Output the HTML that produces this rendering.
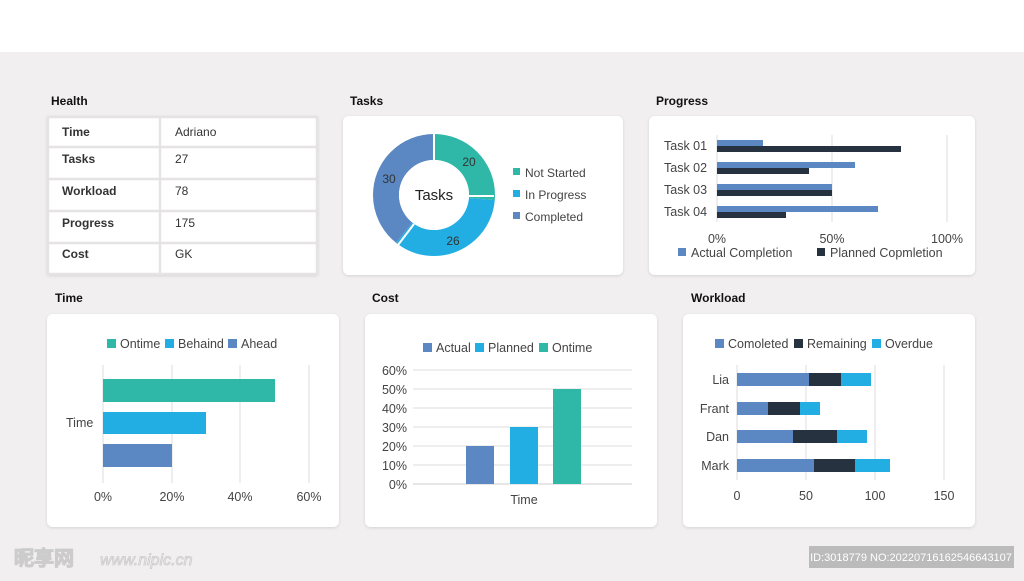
<!DOCTYPE html>
<html><head><meta charset="utf-8"><style>
body{margin:0;width:1024px;height:576px;overflow:hidden;background:#f2eff0;font-family:"Liberation Sans",Arial,sans-serif}
svg text{font-family:"Liberation Sans",Arial,sans-serif}
</style></head><body>
<svg width="1024" height="576" viewBox="0 0 1024 576" xmlns="http://www.w3.org/2000/svg">
<defs><filter id="sh" x="-5%" y="-5%" width="110%" height="115%"><feDropShadow dx="0" dy="1" stdDeviation="1.5" flood-color="#000" flood-opacity="0.12"/></filter></defs>
<rect x="0" y="0" width="1024" height="52" fill="#fff"/>
<g font-size="12" font-weight="bold" fill="#111">
<text x="51" y="105">Health</text><text x="350" y="105">Tasks</text><text x="656" y="105">Progress</text>
<text x="55" y="302">Time</text><text x="372" y="302">Cost</text><text x="691" y="302">Workload</text>
</g>
<g fill="#fff" filter="url(#sh)">
<rect x="47" y="116" width="271" height="159" rx="3"/>
<rect x="343" y="116" width="280" height="159" rx="6"/>
<rect x="649" y="116" width="326" height="159" rx="6"/>
<rect x="47" y="314" width="292" height="213" rx="6"/>
<rect x="365" y="314" width="292" height="213" rx="6"/>
<rect x="683" y="314" width="292" height="213" rx="6"/>
</g>
<!-- health table -->
<g stroke="#e6e3e4" stroke-width="2.5" fill="none">
<rect x="48" y="117" width="269" height="157"/>
<line x1="160" y1="117" x2="160" y2="274"/>
<line x1="48" y1="147" x2="317" y2="147"/><line x1="48" y1="179" x2="317" y2="179"/>
<line x1="48" y1="211" x2="317" y2="211"/><line x1="48" y1="243" x2="317" y2="243"/>
</g>
<g font-size="12" fill="#333"><g font-weight="bold">
<text x="62" y="136">Time</text><text x="62" y="163">Tasks</text><text x="62" y="195">Workload</text><text x="62" y="227">Progress</text><text x="62" y="258">Cost</text></g>
<text x="175" y="136">Adriano</text><text x="175" y="163">27</text><text x="175" y="195">78</text><text x="175" y="227">175</text><text x="175" y="258">GK</text></g>
<!-- donut -->
<g transform="translate(434,195) rotate(-90)" fill="none" stroke-width="26">
<circle r="48" stroke="#2fb8a8" stroke-dasharray="79.4 400"/>
<circle r="48" stroke="#23aee3" stroke-dasharray="0 79.4 103.2 400"/>
<circle r="48" stroke="#5b87c2" stroke-dasharray="0 182.6 119 400"/>
</g>
<g stroke="#fff" stroke-width="2"><line x1="434" y1="134" x2="434" y2="161"/><line x1="494" y1="196" x2="468" y2="196"/><line x1="398" y1="245" x2="414" y2="224"/></g>
<circle cx="434" cy="195" r="35" fill="#fff"/>
<text x="434" y="200" font-size="15" text-anchor="middle" fill="#222">Tasks</text>
<g font-size="12" fill="#333" text-anchor="middle"><text x="469" y="166">20</text><text x="453" y="245">26</text><text x="389" y="183">30</text></g>
<g font-size="12" fill="#444"><rect x="513" y="168" width="7" height="7" fill="#2fb8a8"/><text x="525" y="177">Not Started</text>
<rect x="513" y="190" width="7" height="7" fill="#23aee3"/><text x="525" y="199">In Progress</text>
<rect x="513" y="212" width="7" height="7" fill="#5b87c2"/><text x="525" y="221">Completed</text></g>
<!-- progress -->
<g stroke="#ddd"><line x1="717" y1="135" x2="717" y2="222"/><line x1="832" y1="135" x2="832" y2="222"/><line x1="947" y1="135" x2="947" y2="222"/></g>
<g fill="#5b87c2"><rect x="717" y="140" width="46" height="6"/><rect x="717" y="162" width="138" height="6"/><rect x="717" y="184" width="115" height="6"/><rect x="717" y="206" width="161" height="6"/></g>
<g fill="#263240"><rect x="717" y="146" width="184" height="6"/><rect x="717" y="168" width="92" height="6"/><rect x="717" y="190" width="115" height="6"/><rect x="717" y="212" width="69" height="6"/></g>
<g font-size="12.5" fill="#444"><text x="664" y="150">Task 01</text><text x="664" y="172">Task 02</text><text x="664" y="194">Task 03</text><text x="664" y="216">Task 04</text>
<text x="717" y="243" text-anchor="middle">0%</text><text x="832" y="243" text-anchor="middle">50%</text><text x="947" y="243" text-anchor="middle">100%</text>
<rect x="678" y="248" width="8" height="8" fill="#5b87c2"/><text x="691" y="257">Actual Completion</text>
<rect x="817" y="248" width="8" height="8" fill="#263240"/><text x="830" y="257">Planned Copmletion</text></g>
<!-- time -->
<g stroke="#ddd"><line x1="103" y1="365" x2="103" y2="483"/><line x1="172" y1="365" x2="172" y2="483"/><line x1="240" y1="365" x2="240" y2="483"/><line x1="309" y1="365" x2="309" y2="483"/></g>
<rect x="103" y="379" width="172" height="23" fill="#2fb8a8"/><rect x="103" y="412" width="103" height="22" fill="#23aee3"/><rect x="103" y="444" width="69" height="23" fill="#5b87c2"/>
<g font-size="12.5" fill="#444"><text x="66" y="427">Time</text>
<text x="103" y="501" text-anchor="middle">0%</text><text x="172" y="501" text-anchor="middle">20%</text><text x="240" y="501" text-anchor="middle">40%</text><text x="309" y="501" text-anchor="middle">60%</text>
<rect x="107" y="339" width="9" height="9" fill="#2fb8a8"/><text x="120" y="348">Ontime</text>
<rect x="165" y="339" width="9" height="9" fill="#23aee3"/><text x="178" y="348">Behaind</text>
<rect x="228" y="339" width="9" height="9" fill="#5b87c2"/><text x="241" y="348">Ahead</text></g>
<!-- cost -->
<g stroke="#ddd"><line x1="413" y1="370" x2="632" y2="370"/><line x1="413" y1="389" x2="632" y2="389"/><line x1="413" y1="408" x2="632" y2="408"/><line x1="413" y1="427" x2="632" y2="427"/><line x1="413" y1="446" x2="632" y2="446"/><line x1="413" y1="465" x2="632" y2="465"/><line x1="413" y1="484" x2="632" y2="484" stroke="#ccc"/></g>
<rect x="466" y="446" width="28" height="38" fill="#5b87c2"/><rect x="510" y="427" width="28" height="57" fill="#23aee3"/><rect x="553" y="389" width="28" height="95" fill="#2fb8a8"/>
<g font-size="12.5" fill="#444" text-anchor="end"><text x="407" y="375">60%</text><text x="407" y="394">50%</text><text x="407" y="413">40%</text><text x="407" y="432">30%</text><text x="407" y="451">20%</text><text x="407" y="470">10%</text><text x="407" y="489">0%</text></g>
<g font-size="12.5" fill="#444"><text x="524" y="504" text-anchor="middle">Time</text>
<rect x="423" y="343" width="9" height="9" fill="#5b87c2"/><text x="436" y="352">Actual</text>
<rect x="475" y="343" width="9" height="9" fill="#23aee3"/><text x="488" y="352">Planned</text>
<rect x="539" y="343" width="9" height="9" fill="#2fb8a8"/><text x="552" y="352">Ontime</text></g>
<!-- workload -->
<g stroke="#ddd"><line x1="737" y1="365" x2="737" y2="480"/><line x1="806" y1="365" x2="806" y2="480"/><line x1="875" y1="365" x2="875" y2="480"/><line x1="944" y1="365" x2="944" y2="480"/></g>
<g fill="#5b87c2"><rect x="737" y="373" width="72" height="13"/><rect x="737" y="402" width="31" height="13"/><rect x="737" y="430" width="56" height="13"/><rect x="737" y="459" width="77" height="13"/></g>
<g fill="#263240"><rect x="809" y="373" width="32" height="13"/><rect x="768" y="402" width="32" height="13"/><rect x="793" y="430" width="44" height="13"/><rect x="814" y="459" width="41" height="13"/></g>
<g fill="#23aee3"><rect x="841" y="373" width="30" height="13"/><rect x="800" y="402" width="20" height="13"/><rect x="837" y="430" width="30" height="13"/><rect x="855" y="459" width="35" height="13"/></g>
<g font-size="12.5" fill="#444"><g text-anchor="end"><text x="729" y="384">Lia</text><text x="729" y="413">Frant</text><text x="729" y="441">Dan</text><text x="729" y="470">Mark</text></g>
<g text-anchor="middle"><text x="737" y="500">0</text><text x="806" y="500">50</text><text x="875" y="500">100</text><text x="944" y="500">150</text></g>
<rect x="715" y="339" width="9" height="9" fill="#5b87c2"/><text x="728" y="348">Comoleted</text>
<rect x="794" y="339" width="9" height="9" fill="#263240"/><text x="807" y="348">Remaining</text>
<rect x="872" y="339" width="9" height="9" fill="#23aee3"/><text x="885" y="348">Overdue</text></g>
<!-- watermark -->
<text x="14" y="565" font-size="20" font-weight="bold" fill="none" stroke="#ccc" stroke-width="1" font-family="'Noto Sans CJK SC',sans-serif">昵享网</text>
<text x="100" y="565" font-size="16" font-style="italic" fill="none" stroke="#ccc" stroke-width="0.8">www.nipic.cn</text>
<rect x="809" y="546" width="205" height="22" fill="#bbb"/>
<text x="911" y="561" font-size="11" fill="#fff" text-anchor="middle">ID:3018779 NO:20220716162546643107</text>
</svg>
</body></html>
